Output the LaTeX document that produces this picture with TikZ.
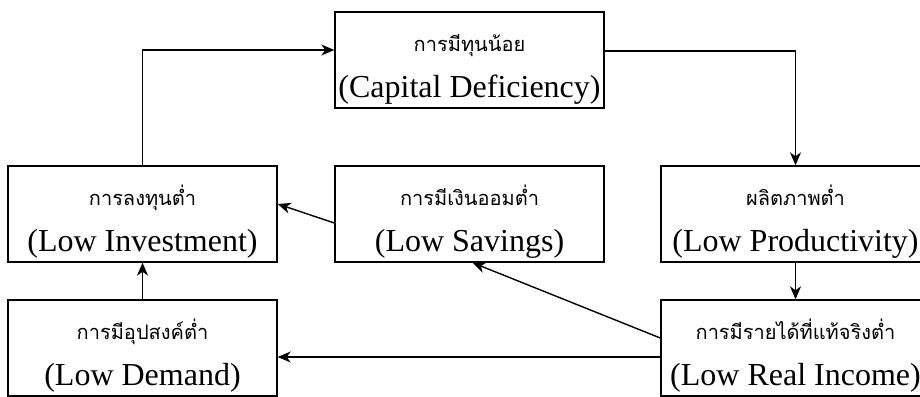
\documentclass[tikz,border=0pt]{standalone}
\usepackage{fontspec}
\setmainfont{Liberation Serif}
\newfontfamily\thaifont[Script=Thai]{Loma}
\usetikzlibrary{arrows.meta}

\begin{document}
\begin{tikzpicture}[x = 1pt, y = -1pt, line width = 1.4pt,
    box/.style = {draw, minimum width = 269pt, minimum height = 96pt, inner sep = 0pt},
    thline/.style = {anchor = base, inner sep = 0pt, font = \thaifont\fontsize{20}{20}\selectfont},
    enline/.style = {anchor = base, inner sep = 0pt, font = \fontsize{32}{32}\selectfont},
    link/.style = {-{Stealth[length = 13pt, width = 11pt, inset = 4pt]}}]
      \useasboundingbox (0, 0) rectangle (920, 396);

      \foreach \n/\x/\y/\th/\en in {cap/469.5/60/การมีทุนน้อย/(Capital Deficiency),
          inv/142.5/214/การลงทุนต่ำ/(Low Investment),
          sav/469.5/214/การมีเงินออมต่ำ/(Low Savings),
          prod/795.5/214/ผลิตภาพต่ำ/(Low Productivity),
          dem/142.5/348/การมีอุปสงค์ต่ำ/(Low Demand),
          inc/795.5/348/การมีรายได้ที่แท้จริงต่ำ/(Low Real Income)} {
        \node[box] (\n) at (\x, \y) {};
        \begin{scope}
          \clip (\n.south west) rectangle (\n.north east);
          \node[thline] (\n-th) at ([yshift = -40pt]\n.north) {\th};
          \node[enline] (\n-en) at ([yshift = -86pt]\n.north) {\en};
        \end{scope}
      }

      \draw[link] (inv.north) |- ([yshift = 10pt]cap.west);
      \draw[link] ([yshift = 9pt]cap.east) -| (prod.north);
      \draw[link] (prod.south) -- (inc.north);
      \draw[link] ([yshift = 10pt]inc.west) -- ([xshift = 3pt]sav.south);
      \draw[link] ([yshift = -9pt]inc.west) -- ([yshift = -9pt]dem.east);
      \draw[link] (dem.north) -- (inv.south);
      \draw[link] ([yshift = -9pt]sav.west) -- ([yshift = 10pt]inv.east);

    \end{tikzpicture}
\end{document}
